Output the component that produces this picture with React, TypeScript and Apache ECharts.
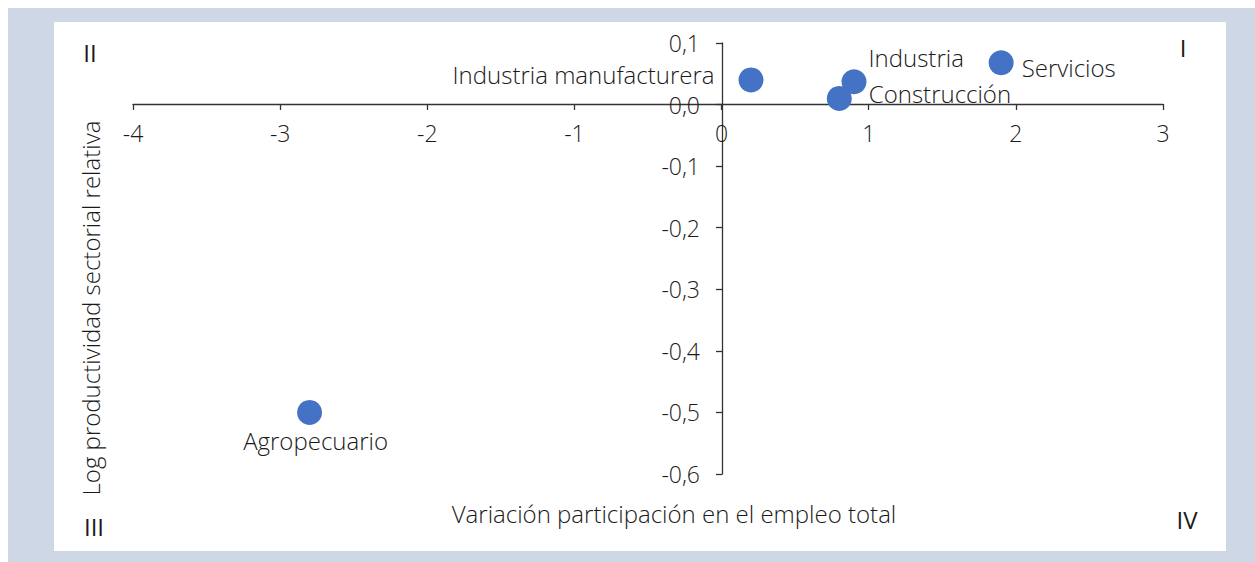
import React, { useEffect, useRef } from "react";
import * as echarts from "echarts";

const sectors = ["Industria manufacturera", "Industria", "Construcción", "Servicios", "Agropecuario"];
const employmentChange = [0.2, 0.9, 0.8, 1.9, -2.8];
const logProductivity = [0.04, 0.037, 0.01, 0.068, -0.5];
const quadrantLabels = ["I", "II", "III", "IV"];

const FONT = "'Open Sans', 'Noto Sans', sans-serif";
const TXT = "#1a1a1a";
const FS = 24;
const TICK_FS = 23;
const FW = 300;

export default function App() {
  const ref = useRef<HTMLDivElement>(null);
  useEffect(() => {
    document.body.style.margin = "0";
    const chart = echarts.init(ref.current!, undefined, { renderer: "svg" });
    const labelCfg: any[] = [
      { position: "left", distance: 24, offset: [0, -5] },
      { position: "right", distance: 2, offset: [0, -24] },
      { position: "right", distance: 17, offset: [0, -5] },
      { position: "right", distance: 8, offset: [0, 5] },
      { position: "bottom", distance: 4, offset: [6, 0] },
    ];
    const data = sectors.map((s, i) => ({
      name: s,
      value: [employmentChange[i], logProductivity[i]],
      label: { show: true, formatter: s, ...labelCfg[i] },
    }));
    const txt = (text: string, x: number, y: number, weight: any, extra: any = {}) => ({
      type: "text",
      x,
      y,
      ...extra,
      style: {
        text,
        fill: TXT,
        font: `${weight} ${FS}px ${FONT}`,
        textAlign: "center",
        textVerticalAlign: "middle",
      },
    });
    chart.setOption({
      animation: false,
      textStyle: { fontFamily: FONT },
      grid: { left: 133, right: 92, top: 43, bottom: 88, containLabel: false },
      xAxis: {
        type: "value",
        position: "bottom",
        offset: -370,
        min: -4,
        max: 3,
        interval: 1,
        splitLine: { show: false },
        axisLine: { onZero: false, lineStyle: { color: "#333", width: 1.3 } },
        axisTick: { show: true, length: 6, lineStyle: { color: "#333", width: 1.3 } },
        axisLabel: { color: TXT, fontSize: TICK_FS, fontWeight: FW, margin: 17, fontFamily: FONT },
      },
      yAxis: {
        type: "value",
        position: "left",
        offset: -589,
        min: -0.6,
        max: 0.1,
        interval: 0.1,
        splitLine: { show: false },
        axisLine: { onZero: false, lineStyle: { color: "#333", width: 1.3 } },
        axisTick: { show: true, length: 6, lineStyle: { color: "#333", width: 1.3 } },
        axisLabel: {
          color: TXT,
          fontSize: TICK_FS,
          fontWeight: FW,
          margin: 22,
          fontFamily: FONT,
          formatter: (v: number) => v.toFixed(1).replace(".", ","),
        },
      },
      series: [
        {
          type: "scatter",
          symbolSize: 25,
          itemStyle: { color: "#4472C4", opacity: 1 },
          label: { color: TXT, fontSize: FS, fontWeight: FW, fontFamily: FONT },
          data,
        },
      ],
      graphic: [
        txt("Log productividad sectorial relativa", 90, 308, FW, { rotation: Math.PI / 2 }),
        txt("Variación participación en el empleo total", 674, 513, FW),
        txt(quadrantLabels[0], 1183, 47, "normal"),
        txt(quadrantLabels[1], 90, 52, "normal"),
        txt(quadrantLabels[2], 94, 526, "normal"),
        txt(quadrantLabels[3], 1187, 519, "normal"),
      ],
    });
    return () => chart.dispose();
  }, []);
  return (
    <div style={{ position: "relative", width: 1255, height: 562, background: "#fff", overflow: "hidden" }}>
      <div style={{ position: "absolute", left: 8, top: 8, width: 1247, height: 554, background: "#CDD7E5" }} />
      <div style={{ position: "absolute", left: 54, top: 22, width: 1172, height: 529, background: "#fff" }} />
      <div ref={ref} style={{ position: "absolute", left: 0, top: 0, width: 1255, height: 562 }} />
    </div>
  );
}
